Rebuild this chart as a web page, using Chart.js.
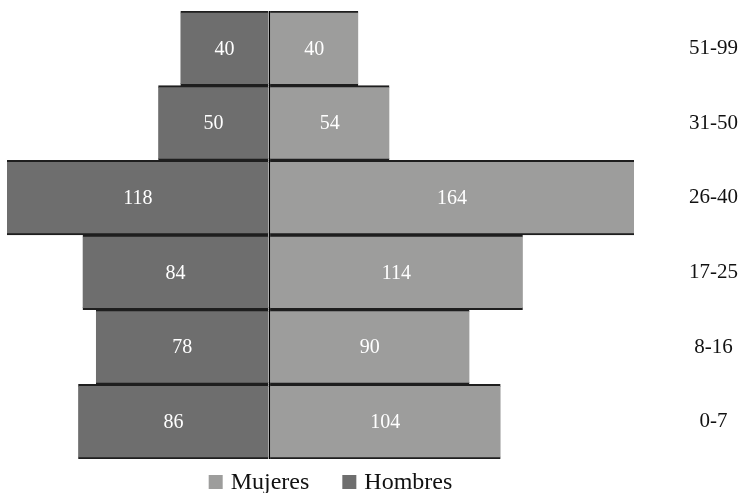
<!DOCTYPE html>
<html>
<head>
<meta charset="utf-8">
<script src="https://cdn.jsdelivr.net/npm/chart.js@4"></script>
<style>
  html, body { margin: 0; padding: 0; background: #fff; }
  #wrap { width: 744px; height: 493px; }
</style>
</head>
<body>
<div id="wrap"><canvas id="pyramid"></canvas></div>
<script>
  // ---- Data (top to bottom) ----
  const ageGroups = ['51-99', '31-50', '26-40', '17-25', '8-16', '0-7'];
  const mujeres   = [40, 54, 164, 114, 90, 104];
  const hombres   = [40, 50, 118, 84, 78, 86];

  const FONT = "'Liberation Serif', 'DejaVu Serif', serif";

  // white value labels in the middle of each bar
  const barLabels = {
    id: 'barLabels',
    afterDatasetsDraw(chart) {
      const ctx = chart.ctx;
      ctx.save();
      ctx.fillStyle = '#ffffff';
      ctx.font = '20px ' + FONT;
      ctx.textAlign = 'center';
      ctx.textBaseline = 'middle';
      chart.data.datasets.forEach((ds, i) => {
        chart.getDatasetMeta(i).data.forEach((bar, j) => {
          const x = (bar.x + bar.base) / 2;
          ctx.fillText(String(Math.abs(ds.data[j])), x, bar.y + 1);
        });
      });
      ctx.restore();
    }
  };

  // simple legend under the plot (built-in one spaces items too tightly)
  const bottomLegend = {
    id: 'bottomLegend',
    afterDraw(chart) {
      const ctx = chart.ctx;
      const area = chart.chartArea;
      const box = 14, gapText = 8, gapItem = 33;
      ctx.save();
      ctx.font = '24px ' + FONT;
      ctx.textBaseline = 'alphabetic';
      const items = chart.data.datasets.map(ds => ({
        text: ds.label,
        color: ds.backgroundColor,
        w: ctx.measureText(ds.label).width,
      }));
      const total = items.reduce((s, it) => s + box + gapText + it.w, 0) + gapItem * (items.length - 1);
      let x = (area.left + area.right) / 2 + 10 - total / 2;
      const base = area.bottom + 30;
      items.forEach(it => {
        ctx.fillStyle = it.color;
        ctx.fillRect(x, base - 14, box, box);
        x += box + gapText;
        ctx.fillStyle = '#111';
        ctx.fillText(it.text, x, base);
        x += it.w + gapItem;
      });
      ctx.restore();
    }
  };

  new Chart(document.getElementById('pyramid'), {
    type: 'bar',
    data: {
      labels: ageGroups,
      datasets: [
        {
          label: 'Mujeres',
          data: mujeres,
          backgroundColor: '#9d9d9c',
          borderColor: '#1e1e1e',
          borderWidth: { top: 2, bottom: 2, left: 0, right: 0 },
          borderSkipped: false,
        },
        {
          label: 'Hombres',
          data: hombres.map(v => -v),
          backgroundColor: '#6e6e6e',
          borderColor: '#1e1e1e',
          borderWidth: { top: 2, bottom: 2, left: 0, right: 0 },
          borderSkipped: false,
        },
      ],
    },
    options: {
      indexAxis: 'y',
      responsive: true,
      maintainAspectRatio: false,
      animation: false,
      layout: { padding: { left: 7, top: 11, right: 0, bottom: 34 } },
      datasets: { bar: { barPercentage: 1, categoryPercentage: 1 } },
      plugins: {
        tooltip: { enabled: false },
        legend: { display: false },
      },
      scales: {
        x: {
          stacked: true,
          min: -118,
          max: 164,
          z: 1,
          ticks: { display: false },
          border: { display: false },
          grid: {
            drawTicks: false,
            lineWidth: 1.5,
            color: c => (c.tick && c.tick.value === 0 ? '#000' : 'rgba(0,0,0,0)'),
          },
        },
        y: {
          stacked: true,
          position: 'right',
          border: { display: false },
          grid: { display: false },
          ticks: {
            color: '#111',
            font: { family: FONT, size: 21 },
            crossAlign: 'center',
            padding: 47,
          },
          afterFit(scale) {
            scale.width = 110;
            scale.paddingTop = 0;
            scale.paddingBottom = 0;
          },
        },
      },
    },
    plugins: [barLabels, bottomLegend],
  });
</script>
</body>
</html>
